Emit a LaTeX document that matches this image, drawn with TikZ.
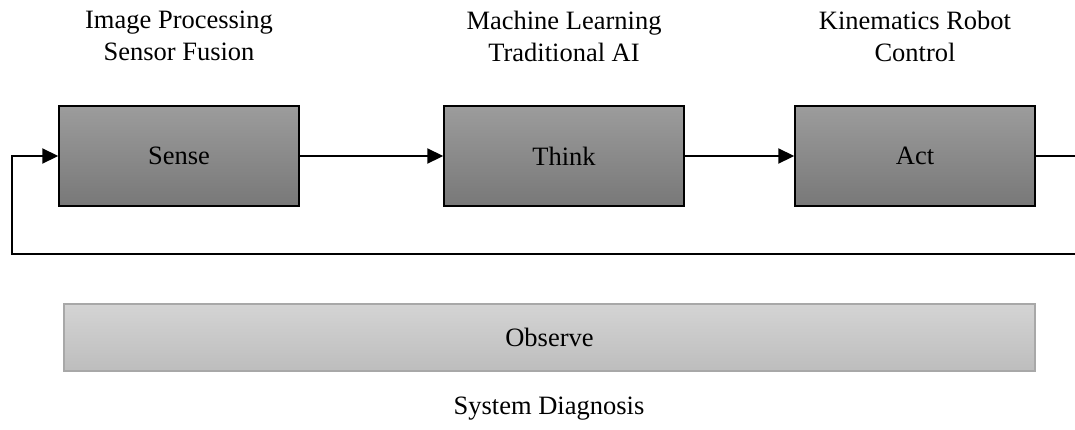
\documentclass[tikz,border=0pt]{standalone}
\usepackage{fontspec}
\setmainfont{Liberation Serif}
\usetikzlibrary{arrows.meta}
\definecolor{boxtop}{HTML}{9C9C9C}
\definecolor{boxbot}{HTML}{787878}
\definecolor{obstop}{HTML}{D4D4D4}
\definecolor{obsbot}{HTML}{BDBDBD}
\definecolor{obsline}{HTML}{A8A8A8}
\tikzset{
  stagebox/.style={draw=black, line width=1.5pt, top color=boxtop, bottom color=boxbot,
    minimum width=240pt, minimum height=100pt, inner sep=0pt, font=\fontsize{26.5}{32}\selectfont},
  obsbox/.style={draw=obsline, line width=1.5pt, top color=obstop, bottom color=obsbot,
    minimum width=971pt, minimum height=67pt, inner sep=0pt, font=\fontsize{26.5}{32}\selectfont},
  lbl/.style={align=center, inner sep=0pt, font=\fontsize{26.5}{32}\selectfont},
  conn/.style={line width=2.2pt, -{Triangle[length=16pt,width=15pt]}}
}
\begin{document}
\begin{tikzpicture}[x=1pt,y=-1pt]
\useasboundingbox (0,0) rectangle (1075,429);
\node[stagebox] (sense) at (179,156) {Sense};
\node[stagebox] (think) at (564,156) {Think};
\node[stagebox] (act) at (915,156) {Act};
\node[obsbox] (obs) at (549.5,337.5) {Observe};
\node[lbl] (l1) at (179,36) {Image Processing\\Sensor Fusion};
\node[lbl] (l2) at (564,36) {Machine Learning\\Traditional AI};
\node[lbl] (l3) at (915,36) {Kinematics Robot\\Control};
\node[lbl] (l4) at (549,409) {System Diagnosis};
\coordinate (r1) at (1080,156);
\coordinate (r2) at (1080,254);
\coordinate (b1) at (12,254);
\coordinate (b2) at (12,156);
\draw[conn] (sense) -- (think);
\draw[conn] (think) -- (act);
\draw[conn] (act.east) -- (r1) -- (r2) -- (b1) -- (b2) -- (sense.west);
\end{tikzpicture}
\end{document}
